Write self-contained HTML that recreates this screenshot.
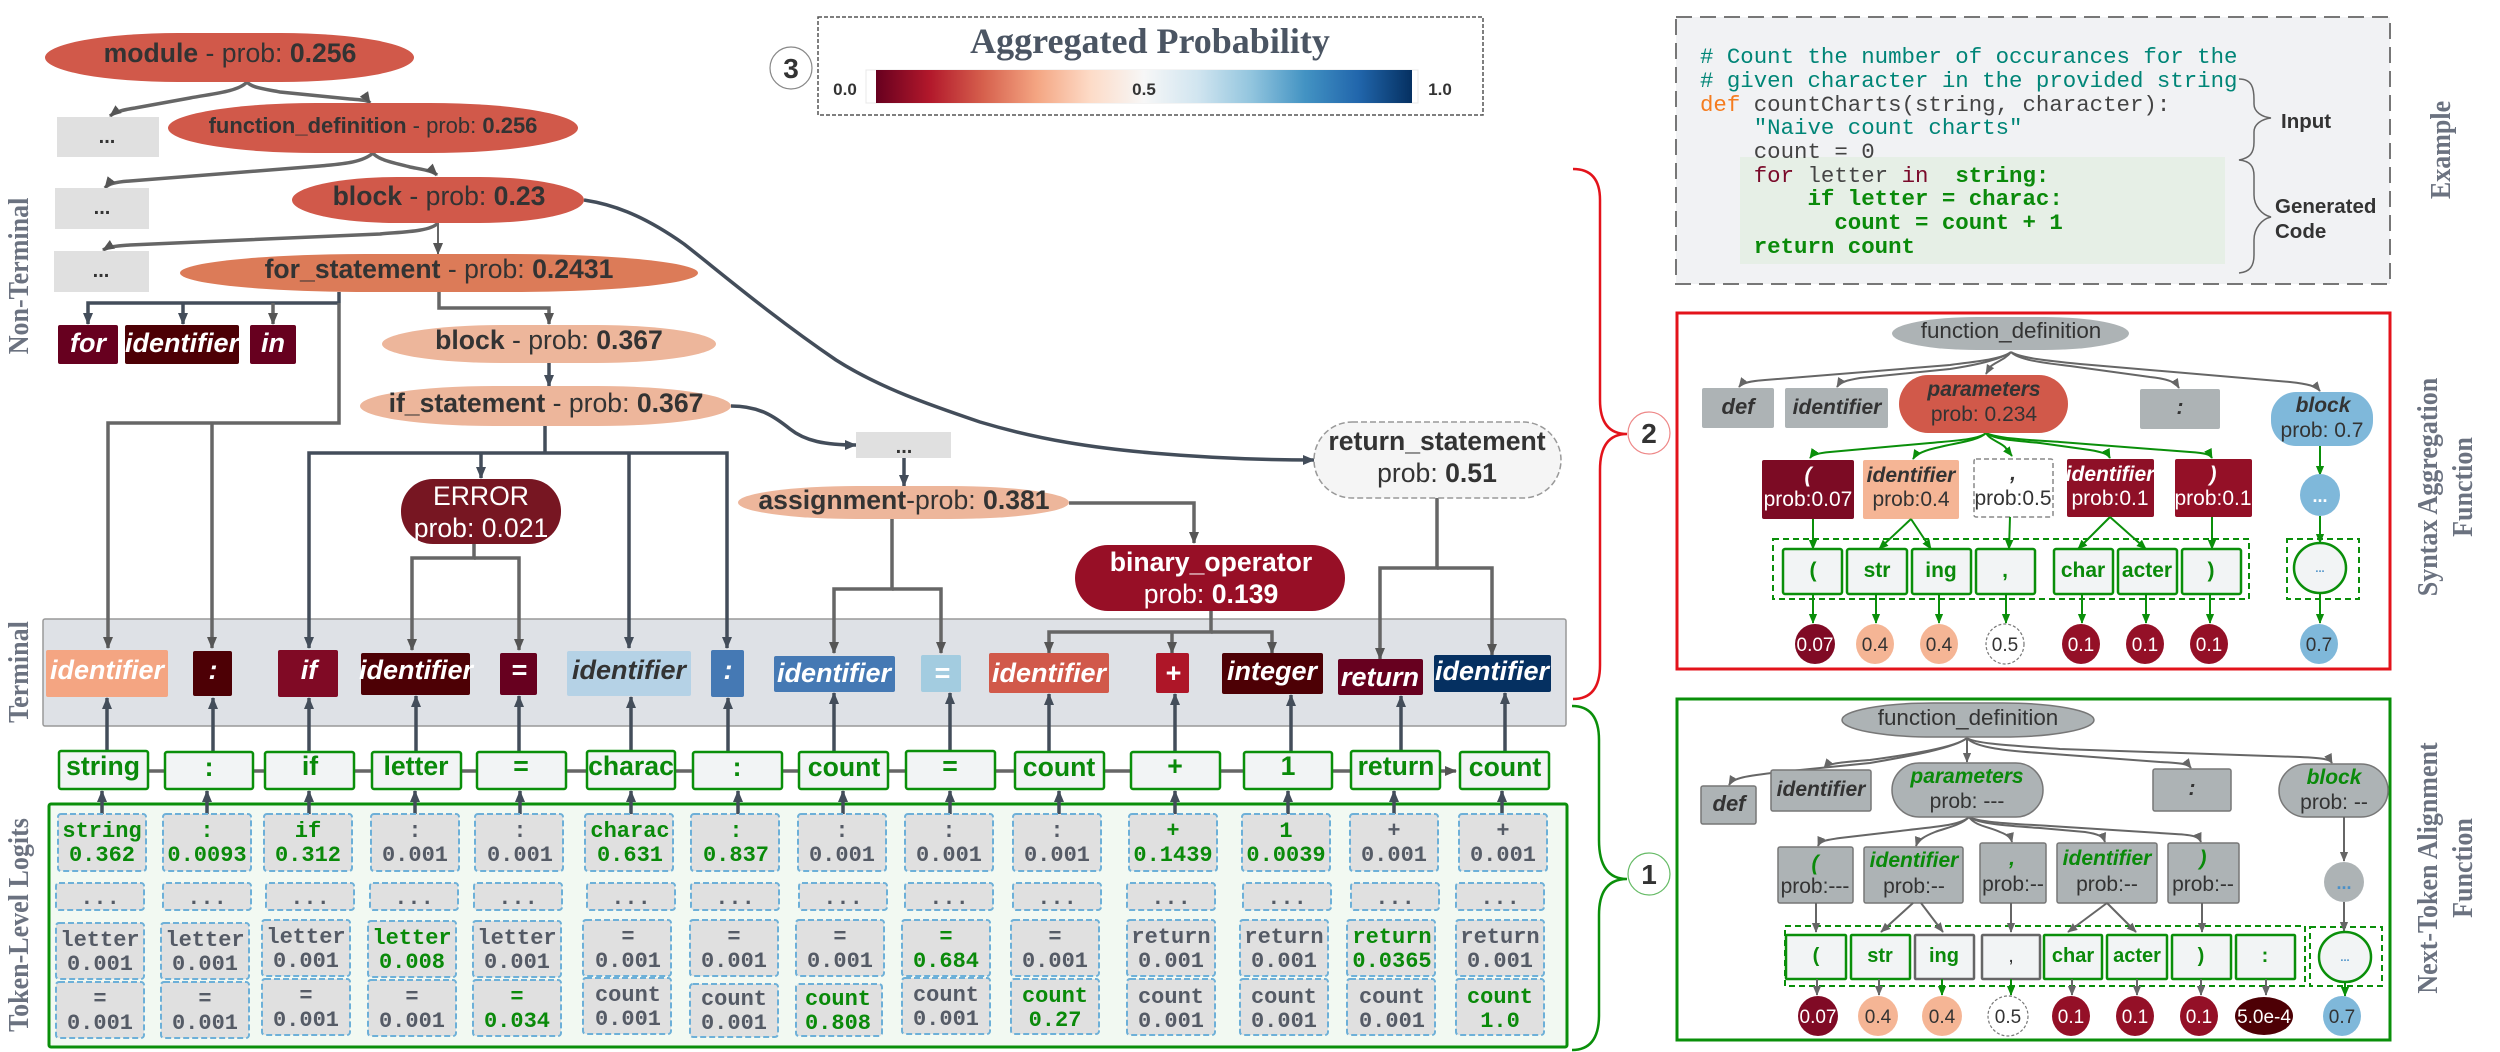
<!DOCTYPE html>
<html><head><meta charset="utf-8"><style>
html,body{margin:0;padding:0;background:#fff}
svg{display:block}
text{font-family:"Liberation Sans",sans-serif;fill:#333}
.b{font-weight:bold}
.m{text-anchor:middle}
.n{font-size:26.6px;text-anchor:middle;fill:#333}
.w{fill:#fff}
.t{font-size:27px;font-weight:bold;font-style:italic;fill:#fff;text-anchor:middle}
.tk{font-size:26.6px;font-weight:bold;fill:#0a8a0a;text-anchor:middle}
.tb{fill:#f2f4f5;stroke:#0a8f0a;stroke-width:2.5}
.c{fill:#e0e0e0;stroke:#6db0d8;stroke-width:2;stroke-dasharray:6 3}
.x{font-family:"Liberation Mono",monospace;font-size:22px;text-anchor:middle;fill:#555b66;font-weight:bold}
.xg{font-family:"Liberation Mono",monospace;font-size:22px;text-anchor:middle;fill:#0a8a0a;font-weight:bold}
.side{font-family:"Liberation Serif",serif;font-weight:bold;font-size:28px;fill:#6b7280;text-anchor:middle}
.code{font-family:"Liberation Mono",monospace;font-size:22.4px;white-space:pre;fill:#444}
.ln{fill:none;stroke:#666;stroke-width:3.5}
.dk{fill:none;stroke:#434d5a;stroke-width:3.5}
.gn{fill:none;stroke:#0a8f0a;stroke-width:2}
.gy{fill:none;stroke:#666;stroke-width:2}
.s{font-size:21px;text-anchor:middle;fill:#333}
.si{font-size:21px;font-weight:bold;font-style:italic;text-anchor:middle;fill:#333}
.sg{font-size:21px;font-weight:bold;font-style:italic;text-anchor:middle;fill:#0a8a0a}
.sk{font-size:21px;font-weight:bold;text-anchor:middle;fill:#0a8a0a}
.o{font-size:19px;text-anchor:middle;fill:#333}
.gb{fill:#adb3b5;stroke:#777;stroke-width:1.5}
.gf{fill:#adb3b5}
.dash{fill:none;stroke:#0a8f0a;stroke-width:2;stroke-dasharray:6 4}
</style></head><body>
<svg width="2500" height="1052" viewBox="0 0 2500 1052" xmlns="http://www.w3.org/2000/svg">
<defs>
<marker id="a" markerUnits="userSpaceOnUse" markerWidth="12" markerHeight="12" viewBox="0 0 12 12" refX="11" refY="6" orient="auto"><path d="M0 1L12 6L0 11Z" fill="#555"/></marker>
<marker id="d" markerUnits="userSpaceOnUse" markerWidth="12" markerHeight="12" viewBox="0 0 12 12" refX="11" refY="6" orient="auto"><path d="M0 1L12 6L0 11Z" fill="#434d5a"/></marker>
<marker id="g" markerUnits="userSpaceOnUse" markerWidth="10" markerHeight="10" viewBox="0 0 12 12" refX="11" refY="6" orient="auto"><path d="M0 1L12 6L0 11Z" fill="#0a8f0a"/></marker>
<marker id="y" markerUnits="userSpaceOnUse" markerWidth="10" markerHeight="10" viewBox="0 0 12 12" refX="11" refY="6" orient="auto"><path d="M0 1L12 6L0 11Z" fill="#666"/></marker>
<linearGradient id="rb"><stop offset="0" stop-color="#67001f"/><stop offset=".1" stop-color="#b2182b"/><stop offset=".2" stop-color="#d6604d"/><stop offset=".3" stop-color="#f4a582"/><stop offset=".4" stop-color="#fddbc7"/><stop offset=".5" stop-color="#f7f7f7"/><stop offset=".6" stop-color="#d1e5f0"/><stop offset=".7" stop-color="#92c5de"/><stop offset=".8" stop-color="#4393c3"/><stop offset=".9" stop-color="#2166ac"/><stop offset="1" stop-color="#053061"/></linearGradient>
</defs>

<!-- terminal and logits backgrounds -->
<rect x="43" y="619" width="1523" height="107" rx="2" fill="#dee1e6" stroke="#999" stroke-width="1.5"/>
<rect x="49" y="804" width="1518" height="243" rx="2" fill="#f2f9f2" stroke="#0a8f0a" stroke-width="3"/>

<!-- top tree connectors -->
<path class="ln" marker-end="url(#a)" d="M247 82C238 92 210 94 190 98L135 108C122 110 115 112 110 116"/>
<path class="ln" marker-end="url(#a)" d="M247 82C252 88 265 89 280 92L350 99C362 100 368 100 370 103"/>
<path class="ln" marker-end="url(#a)" d="M373 153C362 163 340 164 320 166L130 181C115 182 108 184 105 188"/>
<path class="ln" marker-end="url(#a)" d="M373 153C378 160 395 163 410 167C425 170 433 171 437 175"/>
<path class="ln" marker-end="url(#a)" d="M438 223C430 232 400 232 380 234L130 245C115 246 108 247 103 250"/>
<path class="gy" stroke-width="2.5" marker-end="url(#a)" d="M438 223V254"/>
<path class="dk" marker-end="url(#d)" d="M339 303H88V324"/>
<path class="dk" marker-end="url(#d)" d="M183 303V324"/>
<path class="ln" marker-end="url(#a)" d="M273 303V324"/>
<path class="dk" d="M339 292V303"/>
<path class="ln" d="M339 303V423H108V648" marker-end="url(#a)"/>
<path class="ln" d="M212 423V648" marker-end="url(#a)"/>
<path class="ln" marker-end="url(#a)" d="M439 292V308H549V324"/>
<path class="dk" marker-end="url(#d)" d="M549 362V386"/>
<path class="dk" d="M545 426V453"/>
<path class="dk" marker-end="url(#d)" d="M545 453H309V648"/>
<path class="dk" d="M545 453H727V648" marker-end="url(#d)"/>
<path class="dk" marker-end="url(#d)" d="M481 453V478"/>
<path class="dk" marker-end="url(#d)" d="M629 453V648"/>
<path class="ln" d="M474 544V558H412V650" marker-end="url(#a)"/>
<path class="ln" d="M474 558H519V650" marker-end="url(#a)"/>
<path class="dk" marker-end="url(#d)" d="M731 406C760 406 775 417 790 429C805 441 825 445 856 445"/>
<path class="dk" marker-end="url(#d)" d="M904 458V486"/>
<path class="ln" d="M892 519V589H834V653" marker-end="url(#a)"/>
<path class="ln" d="M892 589H941V653" marker-end="url(#a)"/>
<path class="ln" d="M1069 503H1194V543" marker-end="url(#a)"/>
<path class="ln" d="M1211 611V632H1049V653" marker-end="url(#a)"/>
<path class="ln" d="M1211 632H1272V653" marker-end="url(#a)"/>
<path class="ln" d="M1172 632V653" marker-end="url(#a)"/>
<path class="ln" d="M1437 498V568H1380V659" marker-end="url(#a)"/>
<path class="ln" d="M1437 568H1492V655" marker-end="url(#a)"/>
<path class="dk" marker-end="url(#d)" d="M584 200C610 204 640 213 684 244C715 268 770 315 836 360C880 388 930 405 980 422C1040 440 1095 448 1152 453C1210 458 1260 460 1314 460"/>

<!-- top tree nodes -->
<rect x="45" y="33" width="369" height="49" rx="133" ry="24.5" fill="#d1594a"/>
<text class="n" x="230" y="62"><tspan class="b">module</tspan> - prob: <tspan class="b">0.256</tspan></text>
<rect x="57" y="117" width="102" height="40" fill="#e0e0e0"/><text class="b m" x="107" y="143" font-size="20">...</text>
<rect x="168" y="103" width="410" height="50" rx="148" ry="25" fill="#d1594a"/>
<text class="n" style="font-size:22px" x="373" y="133"><tspan class="b">function_definition</tspan> - prob: <tspan class="b">0.256</tspan></text>
<rect x="55" y="188" width="94" height="41" fill="#e0e0e0"/><text class="b m" x="102" y="214" font-size="20">...</text>
<rect x="292" y="177" width="292" height="46" rx="105" ry="23" fill="#d1594a"/>
<text class="n" x="439" y="205"><tspan class="b">block</tspan> - prob: <tspan class="b">0.23</tspan></text>
<rect x="54" y="251" width="95" height="41" fill="#e0e0e0"/><text class="b m" x="101" y="277" font-size="20">...</text>
<rect x="180" y="254" width="518" height="38" rx="186" ry="19" fill="#dc7b58"/>
<text class="n" x="439" y="278"><tspan class="b">for_statement</tspan> - prob: <tspan class="b">0.2431</tspan></text>
<rect x="58" y="325" width="60" height="39" rx="2" fill="#67001f"/><text class="t" x="88" y="352">for</text>
<rect x="125" y="325" width="114" height="39" rx="2" fill="#4d0005"/><text class="t" x="182" y="352">identifier</text>
<rect x="250" y="325" width="46" height="39" rx="2" fill="#67001f"/><text class="t" x="273" y="352">in</text>
<rect x="382" y="325" width="334" height="38" rx="120" ry="19" fill="#edb69b"/>
<text class="n" x="549" y="349"><tspan class="b">block</tspan> - prob: <tspan class="b">0.367</tspan></text>
<rect x="360" y="386" width="371" height="40" rx="134" ry="20" fill="#edb69b"/>
<text class="n" x="546" y="412"><tspan class="b">if_statement</tspan> - prob: <tspan class="b">0.367</tspan></text>
<rect x="401" y="479" width="160" height="65" rx="32" fill="#771622"/>
<text class="n w" x="481" y="505" style="fill:#fff">ERROR</text><text class="n" x="481" y="537" style="fill:#fff">prob: 0.021</text>
<rect x="856" y="432" width="95" height="26" fill="#e0e0e0"/><text class="b m" x="904" y="453" font-size="20">...</text>
<rect x="738" y="486" width="331" height="33" rx="119" ry="16.5" fill="#edb69b"/>
<text class="n" x="904" y="509"><tspan class="b">assignment</tspan>-prob: <tspan class="b">0.381</tspan></text>
<rect x="1075" y="545" width="270" height="66" rx="33" fill="#970f26"/>
<text class="n b" x="1211" y="571" style="fill:#fff">binary_operator</text><text class="n" x="1211" y="603" style="fill:#fff">prob: <tspan class="b">0.139</tspan></text>
<rect x="1314" y="422" width="247" height="76" rx="38" fill="#f5f5f5" stroke="#999" stroke-width="1.5" stroke-dasharray="6 3"/>
<text class="n b" x="1437" y="450">return_statement</text><text class="n" x="1437" y="482">prob: <tspan class="b">0.51</tspan></text>

<!-- terminals -->
<rect x="46" y="650" width="122" height="47" rx="2" fill="#f4a582"/><text class="t" x="107" y="679">identifier</text>
<rect x="193" y="651" width="39" height="45" rx="2" fill="#4d0005"/><text class="t" x="213" y="679">:</text>
<rect x="278" y="650" width="60" height="47" rx="2" fill="#800a25"/><text class="t" x="309" y="679">if</text>
<rect x="361" y="653" width="109" height="42" rx="2" fill="#4d0005"/><text class="t" x="416" y="679">identifier</text>
<rect x="500" y="653" width="37" height="42" rx="2" fill="#67001f"/><text class="t" x="519" y="679">=</text>
<rect x="567" y="651" width="124" height="45" rx="2" fill="#b5d2e6"/><text class="t" x="629" y="679" style="fill:#333">identifier</text>
<rect x="711" y="650" width="33" height="47" rx="2" fill="#4579b4"/><text class="t" x="728" y="679">:</text>
<rect x="774" y="656" width="121" height="36" rx="2" fill="#4579b4"/><text class="t" x="834" y="682">identifier</text>
<rect x="921" y="655" width="40" height="37" rx="2" fill="#a3cce0"/><text class="t" x="942" y="682">=</text>
<rect x="989" y="653" width="120" height="40" rx="2" fill="#d1594a"/><text class="t" x="1049" y="682">identifier</text>
<rect x="1156" y="653" width="33" height="40" rx="2" fill="#ae1628"/><text class="t" x="1173" y="682">+</text>
<rect x="1222" y="653" width="101" height="41" rx="2" fill="#4d0005"/><text class="t" x="1272" y="680">integer</text>
<rect x="1338" y="659" width="85" height="36" rx="2" fill="#67001f"/><text class="t" x="1380" y="686">return</text>
<rect x="1434" y="655" width="117" height="37" rx="2" fill="#053061"/><text class="t" x="1492" y="680">identifier</text>

<!-- token row connectors -->
<path class="ln" d="M148 771H1456" marker-end="url(#a)"/>
<path class="dk" stroke-width="3" marker-end="url(#d)" d="M107 751V698"/><path class="dk" marker-end="url(#d)" d="M213 751V698"/><path class="dk" marker-end="url(#d)" d="M309 751V698"/><path class="dk" marker-end="url(#d)" d="M416 751V696"/><path class="dk" marker-end="url(#d)" d="M519 751V696"/><path class="dk" marker-end="url(#d)" d="M631 751V697"/><path class="dk" marker-end="url(#d)" d="M728 751V698"/><path class="dk" marker-end="url(#d)" d="M834 751V693"/><path class="dk" marker-end="url(#d)" d="M950 751V693"/><path class="dk" marker-end="url(#d)" d="M1049 751V694"/><path class="dk" marker-end="url(#d)" d="M1175 751V694"/><path class="dk" marker-end="url(#d)" d="M1291 751V695"/><path class="dk" marker-end="url(#d)" d="M1401 751V696"/><path class="dk" marker-end="url(#d)" d="M1505 751V693"/>

<!-- tokens -->
<rect class="tb" x="59" y="751" width="89" height="38" rx="2"/><text class="tk" x="103" y="775">string</text>
<rect class="tb" x="165" y="752" width="88" height="37" rx="2"/><text class="tk" x="209" y="776">:</text>
<rect class="tb" x="265" y="752" width="89" height="37" rx="2"/><text class="tk" x="310" y="775">if</text>
<rect class="tb" x="372" y="752" width="89" height="37" rx="2"/><text class="tk" x="416" y="775">letter</text>
<rect class="tb" x="477" y="752" width="89" height="37" rx="2"/><text class="tk" x="521" y="775">=</text>
<rect class="tb" x="587" y="751" width="88" height="38" rx="2"/><text class="tk" x="631" y="775">charac</text>
<rect class="tb" x="693" y="752" width="89" height="37" rx="2"/><text class="tk" x="737" y="776">:</text>
<rect class="tb" x="799" y="752" width="89" height="37" rx="2"/><text class="tk" x="844" y="776">count</text>
<rect class="tb" x="906" y="751" width="89" height="38" rx="2"/><text class="tk" x="950" y="775">=</text>
<rect class="tb" x="1015" y="752" width="89" height="37" rx="2"/><text class="tk" x="1059" y="776">count</text>
<rect class="tb" x="1131" y="752" width="89" height="37" rx="2"/><text class="tk" x="1175" y="775">+</text>
<rect class="tb" x="1244" y="752" width="88" height="37" rx="2"/><text class="tk" x="1288" y="775">1</text>
<rect class="tb" x="1351" y="751" width="89" height="38" rx="2"/><text class="tk" x="1396" y="775">return</text>
<rect class="tb" x="1460" y="752" width="89" height="37" rx="2"/><text class="tk" x="1505" y="776">count</text>

<!-- logits to tokens arrows -->
<path class="dk" marker-end="url(#d)" d="M102 814V791"/><path class="dk" marker-end="url(#d)" d="M207 814V791"/><path class="dk" marker-end="url(#d)" d="M309 814V791"/><path class="dk" marker-end="url(#d)" d="M415 814V791"/><path class="dk" marker-end="url(#d)" d="M520 814V791"/><path class="dk" marker-end="url(#d)" d="M631 814V791"/><path class="dk" marker-end="url(#d)" d="M738 814V791"/><path class="dk" marker-end="url(#d)" d="M843 814V791"/><path class="dk" marker-end="url(#d)" d="M950 814V791"/><path class="dk" marker-end="url(#d)" d="M1059 814V791"/><path class="dk" marker-end="url(#d)" d="M1175 814V791"/><path class="dk" marker-end="url(#d)" d="M1288 814V791"/><path class="dk" marker-end="url(#d)" d="M1394 814V791"/><path class="dk" marker-end="url(#d)" d="M1502 814V791"/>

<!-- logits row 1 -->
<rect class="c" x="58" y="814" width="88" height="57" rx="3"/><text class="xg" x="102" y="837">string</text><text class="xg" x="102" y="861">0.362</text>
<rect class="c" x="163" y="814" width="88" height="57" rx="3"/><text class="xg" x="207" y="837">:</text><text class="xg" x="207" y="861">0.0093</text>
<rect class="c" x="264" y="814" width="88" height="57" rx="3"/><text class="xg" x="308" y="837">if</text><text class="xg" x="308" y="861">0.312</text>
<rect class="c" x="371" y="814" width="88" height="57" rx="3"/><text class="x" x="415" y="837">:</text><text class="x" x="415" y="861">0.001</text>
<rect class="c" x="475" y="814" width="88" height="57" rx="3"/><text class="x" x="520" y="837">:</text><text class="x" x="520" y="861">0.001</text>
<rect class="c" x="585" y="814" width="88" height="57" rx="3"/><text class="xg" x="630" y="837">charac</text><text class="xg" x="630" y="861">0.631</text>
<rect class="c" x="691" y="814" width="88" height="57" rx="3"/><text class="xg" x="736" y="837">:</text><text class="xg" x="736" y="861">0.837</text>
<rect class="c" x="798" y="814" width="88" height="57" rx="3"/><text class="x" x="842" y="837">:</text><text class="x" x="842" y="861">0.001</text>
<rect class="c" x="905" y="814" width="88" height="57" rx="3"/><text class="x" x="949" y="837">:</text><text class="x" x="949" y="861">0.001</text>
<rect class="c" x="1013" y="814" width="88" height="57" rx="3"/><text class="x" x="1057" y="837">:</text><text class="x" x="1057" y="861">0.001</text>
<rect class="c" x="1129" y="814" width="88" height="57" rx="3"/><text class="xg" x="1173" y="837">+</text><text class="xg" x="1173" y="861">0.1439</text>
<rect class="c" x="1242" y="814" width="88" height="57" rx="3"/><text class="xg" x="1286" y="837">1</text><text class="xg" x="1286" y="861">0.0039</text>
<rect class="c" x="1350" y="814" width="88" height="57" rx="3"/><text class="x" x="1394" y="837">+</text><text class="x" x="1394" y="861">0.001</text>
<rect class="c" x="1459" y="814" width="88" height="57" rx="3"/><text class="x" x="1503" y="837">+</text><text class="x" x="1503" y="861">0.001</text>

<!-- logits row 2 -->
<rect class="c" x="56" y="883" width="88" height="27" rx="3"/><text class="x" x="100" y="904">...</text>
<rect class="c" x="163" y="883" width="88" height="27" rx="3"/><text class="x" x="207" y="904">...</text>
<rect class="c" x="266" y="883" width="88" height="27" rx="3"/><text class="x" x="310" y="904">...</text>
<rect class="c" x="370" y="883" width="88" height="27" rx="3"/><text class="x" x="414" y="904">...</text>
<rect class="c" x="474" y="883" width="88" height="27" rx="3"/><text class="x" x="518" y="904">...</text>
<rect class="c" x="587" y="883" width="88" height="27" rx="3"/><text class="x" x="631" y="904">...</text>
<rect class="c" x="691" y="883" width="88" height="27" rx="3"/><text class="x" x="735" y="904">...</text>
<rect class="c" x="799" y="883" width="88" height="27" rx="3"/><text class="x" x="843" y="904">...</text>
<rect class="c" x="905" y="883" width="88" height="27" rx="3"/><text class="x" x="949" y="904">...</text>
<rect class="c" x="1013" y="883" width="88" height="27" rx="3"/><text class="x" x="1057" y="904">...</text>
<rect class="c" x="1127" y="883" width="88" height="27" rx="3"/><text class="x" x="1171" y="904">...</text>
<rect class="c" x="1243" y="883" width="88" height="27" rx="3"/><text class="x" x="1287" y="904">...</text>
<rect class="c" x="1351" y="883" width="88" height="27" rx="3"/><text class="x" x="1395" y="904">...</text>
<rect class="c" x="1456" y="883" width="88" height="27" rx="3"/><text class="x" x="1500" y="904">...</text>

<!-- logits row 3 -->
<rect class="c" x="56" y="923" width="88" height="56" rx="3"/><text class="x" x="100" y="946">letter</text><text class="x" x="100" y="970">0.001</text>
<rect class="c" x="161" y="923" width="88" height="56" rx="3"/><text class="x" x="205" y="946">letter</text><text class="x" x="205" y="970">0.001</text>
<rect class="c" x="262" y="920" width="88" height="56" rx="3"/><text class="x" x="306" y="943">letter</text><text class="x" x="306" y="967">0.001</text>
<rect class="c" x="368" y="921" width="88" height="56" rx="3"/><text class="xg" x="412" y="944">letter</text><text class="xg" x="412" y="968">0.008</text>
<rect class="c" x="473" y="921" width="88" height="56" rx="3"/><text class="x" x="517" y="944">letter</text><text class="x" x="517" y="968">0.001</text>
<rect class="c" x="583" y="920" width="88" height="56" rx="3"/><text class="x" x="628" y="943">=</text><text class="x" x="628" y="967">0.001</text>
<rect class="c" x="690" y="920" width="88" height="56" rx="3"/><text class="x" x="734" y="943">=</text><text class="x" x="734" y="967">0.001</text>
<rect class="c" x="796" y="920" width="88" height="56" rx="3"/><text class="x" x="840" y="943">=</text><text class="x" x="840" y="967">0.001</text>
<rect class="c" x="902" y="920" width="88" height="56" rx="3"/><text class="xg" x="946" y="943">=</text><text class="xg" x="946" y="967">0.684</text>
<rect class="c" x="1011" y="920" width="88" height="56" rx="3"/><text class="x" x="1055" y="943">=</text><text class="x" x="1055" y="967">0.001</text>
<rect class="c" x="1127" y="920" width="88" height="56" rx="3"/><text class="x" x="1171" y="943">return</text><text class="x" x="1171" y="967">0.001</text>
<rect class="c" x="1240" y="920" width="88" height="56" rx="3"/><text class="x" x="1284" y="943">return</text><text class="x" x="1284" y="967">0.001</text>
<rect class="c" x="1347" y="920" width="88" height="56" rx="3"/><text class="xg" x="1392" y="943">return</text><text class="xg" x="1392" y="967">0.0365</text>
<rect class="c" x="1456" y="920" width="88" height="56" rx="3"/><text class="x" x="1500" y="943">return</text><text class="x" x="1500" y="967">0.001</text>

<!-- logits row 4 -->
<rect class="c" x="56" y="982" width="88" height="56" rx="3"/><text class="x" x="100" y="1005">=</text><text class="x" x="100" y="1029">0.001</text>
<rect class="c" x="161" y="982" width="88" height="56" rx="3"/><text class="x" x="205" y="1005">=</text><text class="x" x="205" y="1029">0.001</text>
<rect class="c" x="262" y="979" width="88" height="56" rx="3"/><text class="x" x="306" y="1002">=</text><text class="x" x="306" y="1026">0.001</text>
<rect class="c" x="368" y="980" width="88" height="56" rx="3"/><text class="x" x="412" y="1003">=</text><text class="x" x="412" y="1027">0.001</text>
<rect class="c" x="473" y="980" width="88" height="56" rx="3"/><text class="xg" x="517" y="1003">=</text><text class="xg" x="517" y="1027">0.034</text>
<rect class="c" x="583" y="978" width="88" height="56" rx="3"/><text class="x" x="628" y="1001">count</text><text class="x" x="628" y="1025">0.001</text>
<rect class="c" x="690" y="984" width="88" height="53" rx="3"/><text class="x" x="734" y="1005">count</text><text class="x" x="734" y="1029">0.001</text>
<rect class="c" x="796" y="984" width="86" height="52" rx="3"/><text class="xg" x="838" y="1005">count</text><text class="xg" x="838" y="1029">0.808</text>
<rect class="c" x="902" y="978" width="88" height="56" rx="3"/><text class="x" x="946" y="1001">count</text><text class="x" x="946" y="1025">0.001</text>
<rect class="c" x="1011" y="979" width="88" height="55" rx="3"/><text class="xg" x="1055" y="1002">count</text><text class="xg" x="1055" y="1026">0.27</text>
<rect class="c" x="1127" y="979" width="88" height="56" rx="3"/><text class="x" x="1171" y="1003">count</text><text class="x" x="1171" y="1027">0.001</text>
<rect class="c" x="1240" y="979" width="88" height="56" rx="3"/><text class="x" x="1284" y="1003">count</text><text class="x" x="1284" y="1027">0.001</text>
<rect class="c" x="1347" y="979" width="88" height="56" rx="3"/><text class="x" x="1392" y="1003">count</text><text class="x" x="1392" y="1027">0.001</text>
<rect class="c" x="1456" y="979" width="88" height="56" rx="3"/><text class="xg" x="1500" y="1003">count</text><text class="xg" x="1500" y="1027">1.0</text>

<!-- legend -->
<rect x="818" y="17" width="665" height="98" fill="#fff" stroke="#555" stroke-width="1.5" stroke-dasharray="4 2"/>
<text x="1150" y="53" text-anchor="middle" style="font-family:'Liberation Serif',serif;font-weight:bold;font-size:36px;fill:#4b5563">Aggregated Probability</text>
<rect x="866" y="70" width="552" height="33" fill="#fff" stroke="#e8e8e8"/>
<rect x="876" y="70" width="536" height="33" fill="url(#rb)"/>
<text class="b m" x="845" y="95" font-size="17">0.0</text><text class="b m" x="1144" y="95" font-size="17">0.5</text><text class="b m" x="1440" y="95" font-size="17">1.0</text>
<circle cx="791" cy="68" r="21" fill="#fff" stroke="#888" stroke-width="1.2"/><text class="b m" x="791" y="78" font-size="28">3</text>

<!-- brackets -->
<path d="M1573 169Q1600 169 1600 200V400Q1600 434 1627 434Q1600 434 1600 470V665Q1600 699 1573 699" fill="none" stroke="#e3131b" stroke-width="2.5"/>
<circle cx="1649" cy="433" r="21" fill="#fff" stroke="#e88" stroke-width="1.2"/><text class="b m" x="1649" y="443" font-size="28">2</text>
<path d="M1572 706Q1599 706 1599 740V840Q1599 879 1627 879Q1599 879 1599 915V1015Q1599 1050 1572 1050" fill="none" stroke="#0a8f0a" stroke-width="2.5"/>
<circle cx="1649" cy="874" r="21" fill="#fff" stroke="#6b6" stroke-width="1.2"/><text class="b m" x="1649" y="884" font-size="28">1</text>

<!-- example -->
<rect x="1676" y="17" width="714" height="267" fill="#f1f2f4" stroke="#777" stroke-width="2" stroke-dasharray="16 8"/>
<rect x="1740" y="157" width="485" height="107" fill="#e6efe6"/>
<text class="code" x="1700" y="63" style="fill:#008577"># Count the number of occurances for the</text>
<text class="code" x="1700" y="87" style="fill:#008577"># given character in the provided string</text>
<text class="code" x="1700" y="111"><tspan style="fill:#f57c1f">def</tspan> countCharts(string, character):</text>
<text class="code" x="1700" y="134" style="fill:#008577">    "Naive count charts"</text>
<text class="code" x="1700" y="158">    count = 0</text>
<text class="code" x="1700" y="182">    <tspan style="fill:#7a0a2a">for</tspan> letter <tspan style="fill:#7a0a2a">in</tspan>  <tspan style="fill:#0a8a0a;font-weight:bold">string:</tspan></text>
<text class="code" x="1700" y="205" style="fill:#0a8a0a;font-weight:bold">        if letter = charac:</text>
<text class="code" x="1700" y="229" style="fill:#0a8a0a;font-weight:bold">          count = count + 1</text>
<text class="code" x="1700" y="253" style="fill:#0a8a0a;font-weight:bold">    return count</text>
<path d="M2239 79C2252 79 2254 88 2254 100V104C2254 112 2262 117 2271 118C2262 119 2254 124 2254 132V142C2254 153 2250 158 2239 160C2250 161 2254 166 2254 176V195C2254 206 2262 215 2271 217C2262 219 2254 228 2254 240V255C2254 266 2250 272 2239 273" fill="none" stroke="#666" stroke-width="1.5"/>
<text class="b" x="2281" y="128" font-size="20.5">Input</text>
<text class="b" x="2275" y="213" font-size="20.5">Generated</text>
<text class="b" x="2275" y="238" font-size="20.5">Code</text>

<!-- side labels -->
<text class="side" transform="translate(28 276) rotate(-90) scale(.93 1)">Non-Terminal</text>
<text class="side" transform="translate(28 672) rotate(-90) scale(.93 1)">Terminal</text>
<text class="side" transform="translate(28 925) rotate(-90) scale(.93 1)">Token-Level Logits</text>
<text class="side" transform="translate(2450 150) rotate(-90) scale(.93 1)">Example</text>
<text class="side" transform="translate(2437 487) rotate(-90) scale(.93 1)">Syntax Aggregation</text>
<text class="side" transform="translate(2472 487) rotate(-90) scale(.93 1)">Function</text>
<text class="side" transform="translate(2437 868) rotate(-90) scale(.93 1)">Next-Token Alignment</text>
<text class="side" transform="translate(2472 868) rotate(-90) scale(.93 1)">Function</text>

<!-- syntax aggregation panel -->
<rect x="1677" y="313" width="713" height="356" fill="#fff" stroke="#e3131b" stroke-width="3"/>
<path class="gy" stroke-width="2.5" marker-end="url(#y)" d="M2011 352C2000 360 1970 362 1950 365L1765 380C1750 381 1742 383 1739 387"/>
<path class="gy" stroke-width="2.5" marker-end="url(#y)" d="M2011 352C2000 360 1975 365 1950 369L1860 378C1848 380 1840 382 1837 387"/>
<path class="gy" stroke-width="2.5" marker-end="url(#y)" d="M2011 352C2005 360 1995 362 1990 367L1986 374"/>
<path class="gy" stroke-width="2.5" marker-end="url(#y)" d="M2011 352C2018 360 2045 363 2070 366L2150 377C2170 379 2176 383 2179 388"/>
<path class="gy" stroke-width="2.5" marker-end="url(#y)" d="M2011 352C2020 358 2050 361 2080 364L2290 382C2308 384 2316 386 2320 391"/>
<path class="gn" marker-end="url(#g)" d="M1986 433C1978 440 1950 441 1930 443L1830 452C1818 453 1812 455 1810 458"/>
<path class="gn" marker-end="url(#g)" d="M1986 433C1978 441 1955 443 1940 447C1925 450 1916 454 1913 459"/>
<path class="gn" marker-end="url(#g)" d="M1986 433C1990 440 2000 442 2005 447L2012 456"/>
<path class="gn" marker-end="url(#g)" d="M1986 433C1995 440 2020 441 2040 443L2090 450C2102 452 2108 454 2110 458"/>
<path class="gn" marker-end="url(#g)" d="M1986 433C2000 439 2030 440 2060 442L2190 452C2204 453 2210 454 2212 458"/>
<rect x="1892" y="317" width="237" height="33" rx="85" ry="16.5" class="gf"/><text class="s" x="2011" y="338" style="font-size:22.4px">function_definition</text>
<rect class="gf" x="1702" y="388" width="72" height="40" rx="2"/><text class="si" x="1738" y="414" style="font-size:22px">def</text>
<rect class="gf" x="1785" y="388" width="103" height="40" rx="2"/><text class="si" x="1837" y="414" style="font-size:21px">identifier</text>
<rect x="1899" y="375" width="169" height="58" rx="29" fill="#d1594a"/><text class="si" x="1984" y="396">parameters</text><text class="s" x="1984" y="421">prob: 0.234</text>
<rect class="gf" x="2140" y="389" width="80" height="40" rx="2"/><text class="si" x="2180" y="414">:</text>
<rect x="2271" y="392" width="102" height="54" rx="25" fill="#7fb8da"/><text class="si" x="2323" y="412">block</text><text class="s" x="2322" y="437">prob: 0.7</text>

<rect x="1762" y="460" width="92" height="59" rx="2" fill="#7c0b24"/><text class="si" x="1808" y="482" style="fill:#fff">(</text><text class="s" x="1808" y="506" style="fill:#fff">prob:0.07</text>
<rect x="1863" y="460" width="96" height="59" rx="2" fill="#f5b595"/><text class="si" x="1911" y="482">identifier</text><text class="s" x="1911" y="506">prob:0.4</text>
<rect x="1974" y="459" width="79" height="58" rx="2" fill="#fff" stroke="#888" stroke-width="1.5" stroke-dasharray="5 3"/><text class="si" x="2013" y="480">,</text><text class="s" x="2013" y="505">prob:0.5</text>
<rect x="2067" y="459" width="87" height="58" rx="2" fill="#8e1027"/><text class="si" x="2110" y="481" style="fill:#fff">identifier</text><text class="s" x="2110" y="505" style="fill:#fff">prob:0.1</text>
<rect x="2175" y="459" width="77" height="58" rx="2" fill="#941027"/><text class="si" x="2213" y="481" style="fill:#fff">)</text><text class="s" x="2213" y="505" style="fill:#fff">prob:0.1</text>

<rect class="dash" x="1773" y="539" width="476" height="60"/>
<rect class="dash" x="2287" y="539" width="72" height="60"/>
<path class="gn" marker-end="url(#g)" d="M1813 519V549"/><path class="gn" marker-end="url(#g)" d="M1911 519L1879 549"/><path class="gn" marker-end="url(#g)" d="M1911 519L1931 549"/><path class="gn" marker-end="url(#g)" d="M2010 517L2009 549"/><path class="gn" marker-end="url(#g)" d="M2110 517L2078 549"/><path class="gn" marker-end="url(#g)" d="M2110 517L2146 549"/><path class="gn" marker-end="url(#g)" d="M2212 517V549"/>
<rect class="tb" x="1783" y="549" width="59" height="45" rx="2"/><text class="sk" x="1813" y="577">(</text>
<rect class="tb" x="1847" y="549" width="60" height="45" rx="2"/><text class="sk" x="1877" y="577">str</text>
<rect class="tb" x="1912" y="549" width="59" height="45" rx="2"/><text class="sk" x="1941" y="577">ing</text>
<rect class="tb" x="1976" y="549" width="59" height="45" rx="2"/><text class="sk" x="2005" y="577">,</text>
<rect class="tb" x="2054" y="549" width="59" height="45" rx="2"/><text class="sk" x="2083" y="577">char</text>
<rect class="tb" x="2118" y="549" width="59" height="45" rx="2"/><text class="sk" x="2147" y="577">acter</text>
<rect class="tb" x="2182" y="549" width="59" height="45" rx="2"/><text class="sk" x="2211" y="577">)</text>
<path class="gn" marker-end="url(#g)" d="M2320 446V475"/>
<ellipse cx="2320" cy="495" rx="20" ry="21" fill="#7fb8da"/><text class="b m" x="2320" y="502" font-size="18" style="fill:#fff">...</text>
<path class="gn" marker-end="url(#g)" d="M2320 516V543"/>
<ellipse class="tb" cx="2320" cy="568" rx="26" ry="25"/><text class="b m" x="2320" y="572" font-size="11" style="fill:#4a90c8">...</text>
<path class="gn" marker-end="url(#g)" d="M1813 594V623"/><path class="gn" marker-end="url(#g)" d="M1876 594V623"/><path class="gn" marker-end="url(#g)" d="M1939 594V623"/><path class="gn" marker-end="url(#g)" d="M2006 594V623"/><path class="gn" marker-end="url(#g)" d="M2082 594V623"/><path class="gn" marker-end="url(#g)" d="M2146 594V623"/><path class="gn" marker-end="url(#g)" d="M2210 594V623"/><path class="gn" marker-end="url(#g)" d="M2320 593V623"/>
<ellipse cx="1815" cy="644" rx="20" ry="20" fill="#800a25"/><text class="o" x="1815" y="651" style="fill:#fff">0.07</text>
<ellipse cx="1875" cy="644" rx="19" ry="20" fill="#f5b595"/><text class="o" x="1875" y="651">0.4</text>
<ellipse cx="1939" cy="644" rx="19" ry="20" fill="#f5b595"/><text class="o" x="1939" y="651">0.4</text>
<ellipse cx="2005" cy="644" rx="19" ry="20" fill="#fff" stroke="#777" stroke-width="1.2" stroke-dasharray="3 2"/><text class="o" x="2005" y="651">0.5</text>
<ellipse cx="2081" cy="644" rx="19" ry="20" fill="#941027"/><text class="o" x="2081" y="651" style="fill:#fff">0.1</text>
<ellipse cx="2145" cy="644" rx="19" ry="20" fill="#941027"/><text class="o" x="2145" y="651" style="fill:#fff">0.1</text>
<ellipse cx="2209" cy="644" rx="19" ry="20" fill="#941027"/><text class="o" x="2209" y="651" style="fill:#fff">0.1</text>
<ellipse cx="2319" cy="644" rx="19" ry="20" fill="#7fb8da"/><text class="o" x="2319" y="651">0.7</text>

<!-- next-token alignment panel -->
<rect x="1677" y="699" width="713" height="341" fill="#fff" stroke="#0a8f0a" stroke-width="3"/>
<path class="gy" stroke-width="2.5" marker-end="url(#y)" d="M1967 738C1955 748 1910 756 1870 763L1780 772C1745 776 1733 778 1729 785"/>
<path class="gy" stroke-width="2.5" marker-end="url(#y)" d="M1967 738C1955 748 1905 755 1870 760C1845 762 1828 763 1824 768"/>
<path class="gy" marker-end="url(#y)" d="M1967 738V762"/>
<path class="gy" stroke-width="2.5" marker-end="url(#y)" d="M1967 738C1975 748 2010 751 2040 753L2160 762C2182 763 2188 764 2191 768"/>
<path class="gy" stroke-width="2.5" marker-end="url(#y)" d="M1967 738C1975 744 2020 746 2060 749L2300 757C2322 758 2330 759 2332 763"/>
<path class="gy" stroke-width="2.5" marker-end="url(#y)" d="M1969 817C1960 826 1930 827 1900 831L1840 838C1826 840 1820 841 1818 846"/>
<path class="gy" stroke-width="2.5" marker-end="url(#y)" d="M1969 817C1960 826 1945 828 1935 832C1925 836 1918 840 1916 846"/>
<path class="gy" stroke-width="2.5" marker-end="url(#y)" d="M1969 817C1975 826 1990 827 2000 832C2008 835 2011 838 2012 842"/>
<path class="gy" stroke-width="2.5" marker-end="url(#y)" d="M1969 817C1978 824 2010 826 2040 828L2085 832C2098 834 2103 836 2105 842"/>
<path class="gy" stroke-width="2.5" marker-end="url(#y)" d="M1969 817C1980 823 2020 824 2050 826L2175 834C2195 835 2199 837 2201 842"/>
<rect class="gb" x="1842" y="703" width="252" height="34" rx="91" ry="17"/><text class="s" x="1968" y="725" style="font-size:22.4px">function_definition</text>
<rect class="gb" x="1701" y="786" width="55" height="38" rx="2"/><text class="si" x="1729" y="811" style="font-size:22px">def</text>
<rect class="gb" x="1771" y="770" width="100" height="41" rx="2"/><text class="si" x="1821" y="796">identifier</text>
<rect class="gb" x="1892" y="763" width="151" height="54" rx="27"/><text class="sg" x="1967" y="783">parameters</text><text class="s" x="1967" y="808">prob: ---</text>
<rect class="gb" x="2153" y="769" width="78" height="42" rx="2"/><text class="si" x="2192" y="795">:</text>
<rect class="gb" x="2279" y="764" width="109" height="53" rx="27"/><text class="sg" x="2334" y="784">block</text><text class="s" x="2334" y="809">prob: --</text>

<rect class="gb" x="1778" y="847" width="75" height="56" rx="2"/><text class="sg" x="1815" y="870">(</text><text class="s" x="1815" y="893">prob:---</text>
<rect class="gb" x="1864" y="847" width="99" height="56" rx="2"/><text class="sg" x="1914" y="867">identifier</text><text class="s" x="1914" y="893">prob:--</text>
<rect class="gb" x="1980" y="843" width="66" height="60" rx="2"/><text class="sg" x="2012" y="865">,</text><text class="s" x="2013" y="891">prob:--</text>
<rect class="gb" x="2057" y="843" width="100" height="60" rx="2"/><text class="sg" x="2107" y="865">identifier</text><text class="s" x="2107" y="891">prob:--</text>
<rect class="gb" x="2168" y="843" width="71" height="60" rx="2"/><text class="sg" x="2203" y="865">)</text><text class="s" x="2203" y="891">prob:--</text>

<rect class="dash" x="1785" y="926" width="520" height="60"/>
<rect class="dash" x="2310" y="927" width="72" height="59"/>
<path class="gy" marker-end="url(#y)" d="M1816 903V932"/><path class="gy" marker-end="url(#y)" d="M1913 903L1881 932"/><path class="gy" marker-end="url(#y)" d="M1921 903L1943 932"/><path class="gy" marker-end="url(#y)" d="M2011 903V932"/><path class="gy" marker-end="url(#y)" d="M2107 903L2068 932"/><path class="gy" marker-end="url(#y)" d="M2107 903L2136 932"/><path class="gy" marker-end="url(#y)" d="M2202 903V932"/>
<rect class="tb" x="1786" y="935" width="60" height="44" rx="1"/><text class="sk" x="1816" y="962" style="font-size:20px">(</text>
<rect class="tb" x="1851" y="935" width="59" height="44" rx="1"/><text class="sk" x="1880" y="962" style="font-size:20px">str</text>
<rect class="tb" x="1915" y="935" width="59" height="44" rx="1" style="stroke:#666"/><text class="sk" x="1944" y="962" style="font-size:20px">ing</text>
<rect class="tb" x="1982" y="935" width="58" height="44" rx="1" style="stroke:#666"/><text class="s" x="2011" y="962" style="font-size:20px">,</text>
<rect class="tb" x="2044" y="935" width="58" height="44" rx="1"/><text class="sk" x="2073" y="962" style="font-size:20px">char</text>
<rect class="tb" x="2107" y="935" width="60" height="44" rx="1"/><text class="sk" x="2137" y="962" style="font-size:20px">acter</text>
<rect class="tb" x="2172" y="935" width="59" height="44" rx="1"/><text class="sk" x="2201" y="962" style="font-size:20px">)</text>
<rect class="tb" x="2236" y="935" width="59" height="44" rx="1"/><text class="sk" x="2265" y="962" style="font-size:20px">:</text>
<path class="gy" marker-end="url(#y)" d="M2344 817V861"/>
<ellipse cx="2344" cy="882" rx="20" ry="20" fill="#adb3b5"/><text class="b m" x="2344" y="889" font-size="18" style="fill:#4a90c8">...</text>
<path class="gy" marker-end="url(#y)" d="M2344 902V931"/>
<ellipse class="tb" cx="2345" cy="957" rx="26" ry="25"/><text class="b m" x="2345" y="961" font-size="11" style="fill:#4a90c8">...</text>
<path class="gy" marker-end="url(#y)" d="M1817 979V995"/><path class="gy" marker-end="url(#y)" d="M1879 979V995"/><path class="gn" marker-end="url(#g)" d="M1942 979V995"/><path class="gn" marker-end="url(#g)" d="M2011 979V995"/><path class="gy" marker-end="url(#y)" d="M2072 979V995"/><path class="gy" marker-end="url(#y)" d="M2137 979V995"/><path class="gy" marker-end="url(#y)" d="M2201 979V995"/><path class="gy" marker-end="url(#y)" d="M2266 979V995"/><path class="gn" marker-end="url(#g)" d="M2345 982V996"/>
<ellipse cx="1818" cy="1016" rx="20" ry="20" fill="#800a25"/><text class="o" x="1818" y="1023" style="fill:#fff">0.07</text>
<ellipse cx="1878" cy="1016" rx="20" ry="20" fill="#f5b595"/><text class="o" x="1878" y="1023">0.4</text>
<ellipse cx="1942" cy="1016" rx="20" ry="20" fill="#f5b595"/><text class="o" x="1942" y="1023">0.4</text>
<ellipse cx="2008" cy="1016" rx="20" ry="20" fill="#fff" stroke="#777" stroke-width="1.2" stroke-dasharray="3 2"/><text class="o" x="2008" y="1023">0.5</text>
<ellipse cx="2071" cy="1016" rx="19" ry="20" fill="#941027"/><text class="o" x="2071" y="1023" style="fill:#fff">0.1</text>
<ellipse cx="2135" cy="1016" rx="19" ry="20" fill="#941027"/><text class="o" x="2135" y="1023" style="fill:#fff">0.1</text>
<ellipse cx="2199" cy="1016" rx="19" ry="20" fill="#941027"/><text class="o" x="2199" y="1023" style="fill:#fff">0.1</text>
<ellipse cx="2264" cy="1016" rx="29" ry="19" fill="#4d0005"/><text class="o" x="2264" y="1023" style="fill:#fff">5.0e-4</text>
<ellipse cx="2342" cy="1016" rx="19" ry="20" fill="#7fb8da"/><text class="o" x="2342" y="1023">0.7</text>
</svg>
</body></html>
